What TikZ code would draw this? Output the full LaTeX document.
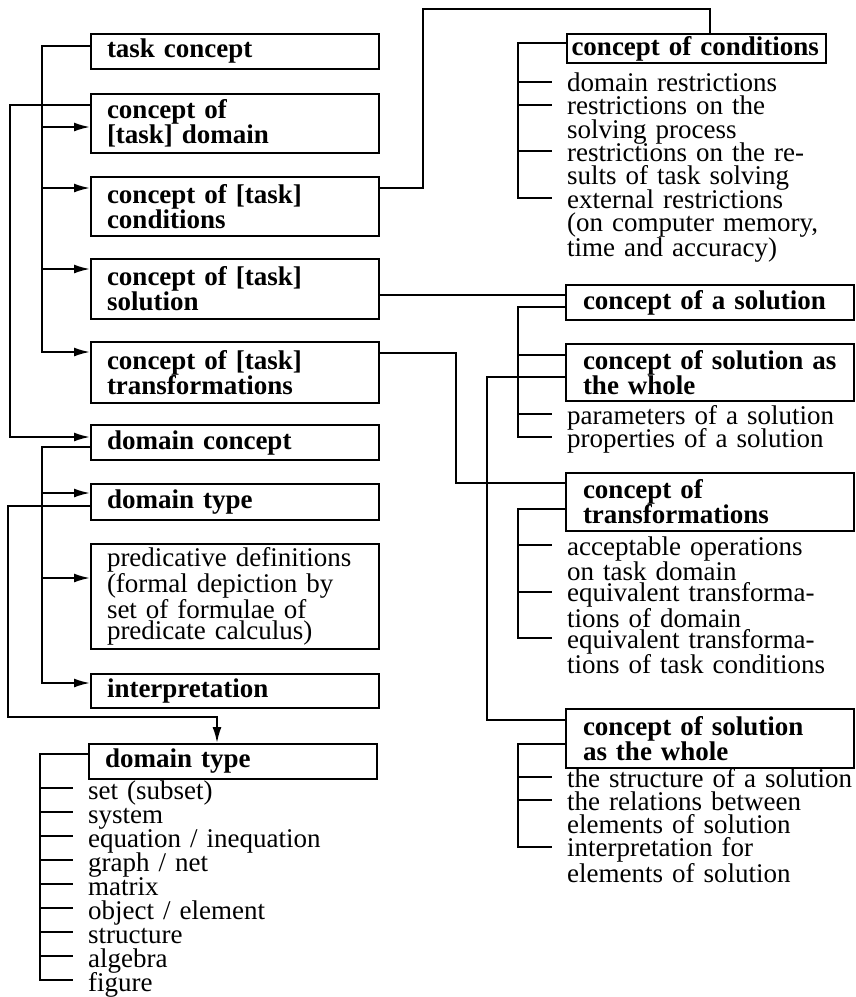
\documentclass[tikz,border=0pt]{standalone}
\usepackage{fontspec}
\setmainfont{Liberation Serif}
\usetikzlibrary{calc,arrows.meta}
\begin{document}
\begin{tikzpicture}[x=1pt,y=-1pt,
  conn/.style={line width=2pt},
  arr/.style={conn,-{Latex[length=16pt,width=9pt]}},
  box/.style={draw,line width=2pt,anchor=north west,inner ysep=0pt,
    inner xsep=16pt,text width=256pt,minimum width=288pt,align=left,
    font=\fontsize{27}{25}\selectfont\bfseries},
  rbox/.style={box,inner xsep=17pt,text width=254pt},
  plainbox/.style={box,font=\fontsize{27}{21.7}\selectfont},
  item/.style={anchor=base west,inner sep=0pt,text width=290pt,align=left,
    font=\fontsize{27}{23.3}\selectfont},
]
\useasboundingbox (0,0) rectangle (855,997);

% ---------- left column ----------
\node[box,minimum height=35pt] (tc) at (90,33) {task concept};
\node[box,minimum height=59pt] (cdom) at (90,93) {concept of\\{}[task] domain};
\node[box,minimum height=59pt] (ccond) at (90,176) {concept of [task]\\conditions};
\node[box,minimum height=60pt] (csol) at (90,258) {concept of [task]\\solution};
\node[box,minimum height=61pt] (ctr) at (90,341) {concept of [task]\\transformations};
\node[box,minimum height=35pt] (dc) at (90,424) {domain concept};
\node[box,minimum height=36pt] (dt) at (90,483) {domain type};
\node[plainbox,minimum height=105pt] (pd) at (90,543)
  {predicative definitions\\(formal depiction by\\set of formulae of\\predicate calculus)};
\node[box,minimum height=34pt] (interp) at (90,673) {interpretation};
\node[box,minimum height=35pt] (dt2) at (88,743) {domain type};

% ---------- right column ----------
\node[box,minimum height=29pt,minimum width=259pt,text width=250pt,inner xsep=4.5pt]
  (cc) at (566,33) {concept of conditions};
\node[rbox,minimum height=35pt] (cs) at (565,284) {concept of a solution};
\node[rbox,minimum height=57pt] (cw) at (565,343) {concept of solution as\\the whole};
\node[rbox,minimum height=58pt] (ct) at (565,472) {concept of\\transformations};
\node[rbox,minimum height=59pt] (cw2) at (565,708) {concept of solution\\as the whole};

% ---------- item lists ----------
\foreach \t [count=\i] in {set (subset),system,equation / inequation,graph / net,
    matrix,object / element,structure,algebra,figure}
  \node[item] (ty\i) at (88,{799+24*(\i-1)}) {\t};

\node[item] (r1) at (567,91.5) {domain restrictions};
\node[item] (r2) at (567,114.8) {restrictions on the\\solving process};
\node[item] (r3) at (567,161.4) {restrictions on the re-\\sults of task solving};
\node[item] (r4) at (567,208) {external restrictions\\(on computer memory,\\time and accuracy)};

\node[item] (p1) at (567,424) {parameters of a solution};
\node[item] (p2) at (567,447.3) {properties of a solution};

\node[item] (q1) at (567,555) {acceptable operations\\on task domain};
\node[item] (q2) at (567,601.6) {equivalent transforma-\\tions of domain};
\node[item] (q3) at (567,648.2) {equivalent transforma-\\tions of task conditions};

\node[item] (s1) at (567,787) {the structure of a solution};
\node[item] (s2) at (567,810.3) {the relations between\\elements of solution};
\node[item] (s3) at (567,856.9) {interpretation for\\elements of solution};

% ---------- spines and bends ----------
\coordinate (spA) at (42,0);
\coordinate (spB) at (10,0);
\coordinate (spD) at (8,0);
\coordinate (dlow) at (8,717);
\coordinate (spE) at (40,0);
\coordinate (spR) at (518,0);
\coordinate (ccj) at (423,9);
\coordinate (trj) at (456,0);
\coordinate (cwj) at (487,0);

% ---------- ports on the boxes ----------
\coordinate (tc-out) at ($(tc.north west)+(0,13)$);
\coordinate (cdom-out) at ($(cdom.north west)+(0,12)$);
\coordinate (cdom-in) at ($(cdom.north west)+(0,34)$);
\coordinate (ccond-in) at ($(ccond.north west)+(0,12)$);
\coordinate (ccond-out) at ($(ccond.north east)+(0,12)$);
\coordinate (csol-in) at ($(csol.north west)+(0,11)$);
\coordinate (csol-out) at ($(csol.north east)+(0,37)$);
\coordinate (ctr-in) at ($(ctr.north west)+(0,11)$);
\coordinate (ctr-out) at ($(ctr.north east)+(0,12)$);
\coordinate (dc-in) at ($(dc.north west)+(0,13)$);
\coordinate (dc-out) at ($(dc.north west)+(0,23)$);
\coordinate (dt-in) at ($(dt.north west)+(0,10)$);
\coordinate (dt-out) at ($(dt.north west)+(0,23)$);
\coordinate (pd-in) at ($(pd.north west)+(0,35)$);
\coordinate (interp-in) at ($(interp.north west)+(0,10)$);
\coordinate (dt2-in) at ($(dt2.north west)+(129,0)$);
\coordinate (dt2-out) at ($(dt2.north west)+(0,11)$);
\coordinate (cc-in) at ($(cc.north west)+(144,0)$);
\coordinate (cc-out) at ($(cc.north west)+(0,10)$);
\coordinate (cs-in) at ($(cs.north west)+(0,11)$);
\coordinate (cs-out) at ($(cs.north west)+(0,23)$);
\coordinate (cw-in) at ($(cw.north west)+(0,12)$);
\coordinate (cw-out) at ($(cw.north west)+(0,34)$);
\coordinate (ct-in) at ($(ct.north west)+(0,11)$);
\coordinate (ct-out) at ($(ct.north west)+(0,37)$);
\coordinate (cw2-in) at ($(cw2.north west)+(0,12)$);
\coordinate (cw2-out) at ($(cw2.north west)+(0,36)$);

% tick points in front of the list items
\foreach \n in {ty1,ty2,ty3,ty4,ty5,ty6,ty7,ty8,ty9}
  \coordinate (\n-t) at ($(\n.base west)+(-15,-11)$);
\foreach \n in {r1,r2,r3,r4,p1,p2,q1,q2,q3,s1,s2,s3}
  \coordinate (\n-t) at ($(\n.base west)+(-15,-10)$);

% ---------- task concept tree ----------
\draw[arr] (tc-out) -- (tc-out -| spA) -- (spA |- ctr-in) -- (ctr-in);
\foreach \n in {cdom,ccond,csol}
  \draw[arr] (spA |- \n-in) -- (\n-in);

% domain -> domain concept
\draw[arr] (cdom-out) -- (cdom-out -| spB) -- (spB |- dc-in) -- (dc-in);

% ---------- domain concept tree ----------
\draw[arr] (dc-out) -- (dc-out -| spA) -- (spA |- interp-in) -- (interp-in);
\foreach \n in {dt,pd}
  \draw[arr] (spA |- \n-in) -- (\n-in);

% domain type -> list of domain types
\draw[arr] (dt-out) -- (dt-out -| spD) -- (dlow) -- (dlow -| dt2-in) -- (dt2-in);
\draw[conn] (dt2-out) -- (dt2-out -| spE) -- (spE |- ty9-t) -- (ty9-t);
\foreach \n in {ty1,ty2,ty3,ty4,ty5,ty6,ty7,ty8}
  \draw[conn] (spE |- \n-t) -- (\n-t);

% ---------- conditions ----------
\draw[conn] (ccond-out) -| (ccj) -| (cc-in);
\draw[conn] (cc-out) -- (cc-out -| spR) -- (spR |- r4-t) -- (r4-t);
\foreach \n in {r1,r2,r3}
  \draw[conn] (spR |- \n-t) -- (\n-t);

% ---------- solution ----------
\draw[conn] (csol-out) -- (cs-in);
\draw[conn] (cs-out) -- (cs-out -| spR) -- (spR |- p2-t) -- (p2-t);
\draw[conn] (spR |- cw-in) -- (cw-in);
\draw[conn] (spR |- p1-t) -- (p1-t);
\draw[conn] (cw-out) -- (cw-out -| cwj) -- (cwj |- cw2-in) -- (cw2-in);
\draw[conn] (cw2-out) -- (cw2-out -| spR) -- (spR |- s3-t) -- (s3-t);
\foreach \n in {s1,s2}
  \draw[conn] (spR |- \n-t) -- (\n-t);

% ---------- transformations ----------
\draw[conn] (ctr-out) -- (ctr-out -| trj) -- (trj |- ct-in) -- (ct-in);
\draw[conn] (ct-out) -- (ct-out -| spR) -- (spR |- q3-t) -- (q3-t);
\foreach \n in {q1,q2}
  \draw[conn] (spR |- \n-t) -- (\n-t);
\end{tikzpicture}
\end{document}
